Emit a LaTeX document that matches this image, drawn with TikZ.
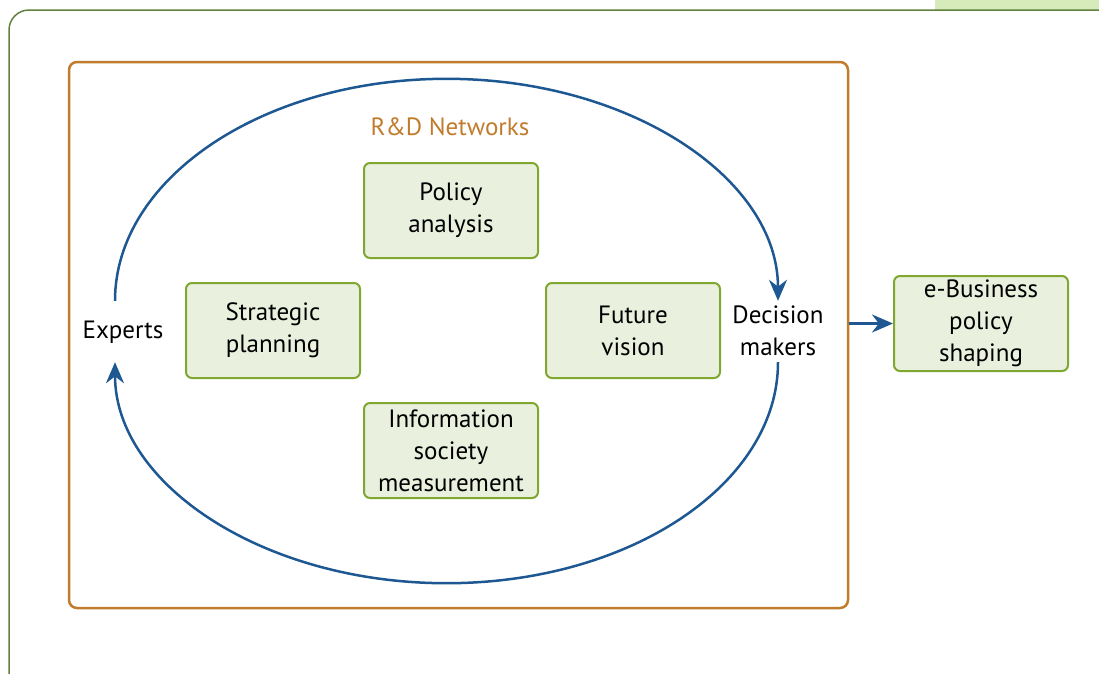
\documentclass[tikz,border=0pt]{standalone}
\usepackage{fontspec}
\setmainfont{PT Sans}
\usetikzlibrary{arrows.meta, positioning}
\definecolor{framegreen}{RGB}{96, 130, 62}
\definecolor{bandgreen}{RGB}{214, 234, 186}
\definecolor{netorange}{RGB}{192, 124, 44}
\definecolor{boxgreen}{RGB}{128, 168, 48}
\definecolor{boxfill}{RGB}{234, 240, 222}
\definecolor{flowblue}{RGB}{30, 88, 146}
\tikzset{
  taskbox/.style={rounded corners=6pt, draw=boxgreen, fill=boxfill, line width=2pt, minimum width=174pt, minimum height=95pt, align=center, inner sep=3pt, font=\fontsize{25}{32}\selectfont},
  actor/.style={align=center, minimum height=62pt, inner sep=2pt, font=\fontsize{25}{32}\selectfont},
  netbox/.style={rounded corners=8pt, draw=netorange, line width=2.5pt, minimum width=779pt, minimum height=546pt},
  flow/.style={-{Stealth[length=21pt, width=18pt]}, flowblue, line width=2.5pt},
}

\begin{document}
\begin{tikzpicture}[x=1pt, y=-1pt]
  \useasboundingbox (0,0) rectangle (1099,673);
  % page frame
  \fill[bandgreen] (935,0) rectangle (1099,10);
  \draw[framegreen, line width=1.5pt] (9,700) -- (9,30) arc[start angle=180, end angle=270, radius=20] -- (1120,10);

  \node[netbox] (net) at (458.5,335) {};
  \node[font=\fontsize{25}{32}\selectfont, netorange] (title) at (450,127) {R\&D Networks};

  \node[taskbox] (policy) at (451,210.5) {Policy\\analysis};
  \node[taskbox] (strat) at (273,330.5) {Strategic\\planning};
  \node[taskbox] (future) at (633,330.5) {Future\\vision};
  \node[taskbox] (info) at (451,450.5) {Information\\society\\measurement};
  \node[taskbox] (ebiz) at (981,323.5) {e-Business\\policy\\shaping};

  \node[actor] (experts) at (123,332) {Experts};
  \node[actor] (decision) at (778,331) {Decision\\makers};

  % the loop between experts and decision makers
  \draw[flow] ([xshift=-8pt]experts.north) arc[start angle=180, end angle=360, x radius=331.5, y radius=222];
  \draw[flow] (decision.south) arc[start angle=0, end angle=180, x radius=331.5, y radius=221];
  \draw[flow] (net.east |- ebiz.west) -- (ebiz.west);
\end{tikzpicture}
\end{document}
